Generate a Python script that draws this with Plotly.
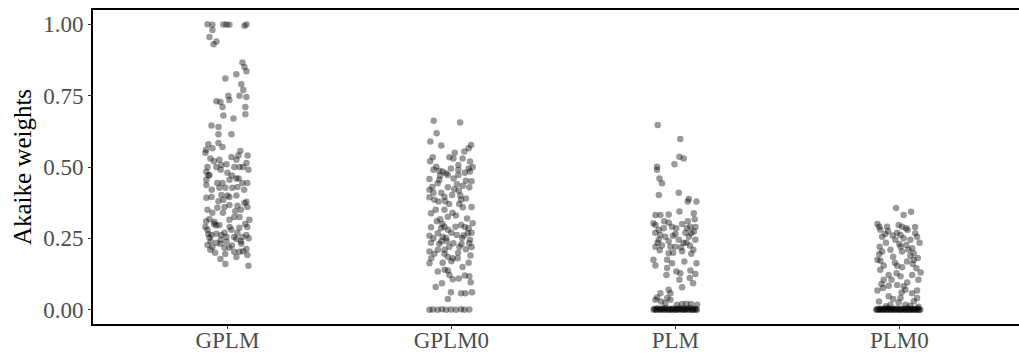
import plotly.graph_objects as go

categories = ["GPLM", "GPLM0", "PLM", "PLM0"]
y_tick_vals = [0.0, 0.25, 0.5, 0.75, 1.0]
y_tick_text = ["0.00", "0.25", "0.50", "0.75", "1.00"]

# ---- GPLM ----
gplm_y = [
    1.000, 0.998, 0.999, 0.999, 0.998, 0.995, 0.999, 0.980, 0.955, 0.940,
    0.930, 0.866, 0.850, 0.835, 0.825, 0.810, 0.790, 0.770, 0.745, 0.750,
    0.750, 0.735, 0.730, 0.728, 0.710, 0.710, 0.680, 0.670, 0.685, 0.645,
    0.640, 0.615, 0.615, 0.580, 0.584, 0.570, 0.550, 0.566, 0.530, 0.525,
    0.535, 0.525, 0.556, 0.540, 0.514, 0.490, 0.500, 0.483, 0.472, 0.500,
    0.507, 0.510, 0.500, 0.500, 0.480, 0.455, 0.437, 0.444, 0.444, 0.455,
    0.460, 0.444, 0.444, 0.427, 0.427, 0.427, 0.430, 0.392, 0.395, 0.402,
    0.385, 0.395, 0.400, 0.378, 0.360, 0.350, 0.340, 0.357, 0.360, 0.367,
    0.364, 0.374, 0.325, 0.325, 0.315, 0.318, 0.308, 0.297, 0.315, 0.290,
    0.280, 0.262, 0.252, 0.266, 0.262, 0.270, 0.255, 0.280, 0.287, 0.255,
    0.290, 0.262, 0.227, 0.220, 0.234, 0.231, 0.238, 0.248, 0.231, 0.210,
    0.217, 0.217, 0.203, 0.203, 0.213, 0.192, 0.178, 0.160, 0.154,
    0.520, 0.500, 0.470, 0.470, 0.420, 0.420, 0.400, 0.380, 0.350, 0.340,
    0.345, 0.310, 0.300, 0.295, 0.290, 0.270, 0.265, 0.250, 0.245, 0.240,
    0.240, 0.225, 0.200, 0.205, 0.195, 0.185, 0.560, 0.540, 0.490, 0.460,
    0.300, 0.255,
]
gplm_jitter = [
    -0.089, -0.067, -0.018, -0.004, 0.009, 0.076, 0.085, -0.067, -0.080, -0.049,
    -0.062, 0.067, 0.076, 0.085, 0.040, -0.009, 0.062, 0.071, 0.085, 0.054,
    0.004, 0.009, -0.049, -0.031, -0.022, 0.080, -0.018, 0.027, 0.080, -0.071,
    -0.040, -0.040, 0.018, -0.085, -0.040, -0.022, -0.098, -0.067, -0.076, -0.036,
    0.018, 0.040, 0.058, 0.049, 0.085, 0.094, -0.089, -0.094, -0.080, -0.049,
    -0.027, -0.004, 0.031, 0.054, 0.000, -0.094, -0.094, -0.045, -0.022, 0.009,
    0.040, 0.067, 0.089, -0.036, -0.009, 0.022, 0.045, -0.094, -0.071, -0.027,
    -0.018, 0.009, 0.040, 0.085, 0.089, -0.089, -0.067, -0.045, -0.013, 0.009,
    0.045, 0.076, 0.054, 0.031, 0.009, -0.080, -0.058, -0.036, 0.098, -0.098,
    -0.089, -0.071, -0.080, -0.049, -0.027, -0.013, -0.004, 0.018, 0.054, 0.067,
    0.089, 0.085, -0.089, -0.067, -0.049, -0.031, -0.004, 0.040, 0.062, -0.076,
    -0.013, 0.009, 0.031, 0.054, 0.085, 0.089, -0.031, -0.009, 0.094,
    -0.060, 0.070, -0.085, 0.020, 0.075, -0.070, 0.000, -0.040, 0.060, -0.020,
    0.035, -0.095, 0.080, -0.050, 0.010, 0.045, -0.085, 0.095, -0.030, 0.060,
    -0.075, 0.020, -0.055, 0.070, -0.010, 0.040, -0.095, 0.090, -0.030, 0.050,
    -0.060, 0.030,
]

# ---- GPLM0 ----
gplm0_y = [
    0.662, 0.656, 0.618, 0.589, 0.577, 0.566, 0.554, 0.534, 0.534, 0.530,
    0.519, 0.507, 0.501, 0.487, 0.484, 0.478, 0.495, 0.490, 0.495, 0.484,
    0.472, 0.458, 0.455, 0.443, 0.472, 0.452, 0.434, 0.429, 0.420, 0.429,
    0.422, 0.417, 0.394, 0.385, 0.396, 0.380, 0.379, 0.402, 0.385, 0.359,
    0.338, 0.350, 0.326, 0.317, 0.303, 0.289, 0.285, 0.291, 0.291, 0.297,
    0.285, 0.259, 0.268, 0.256, 0.251, 0.262, 0.251, 0.268, 0.245, 0.235,
    0.231, 0.221, 0.233, 0.221, 0.212, 0.233, 0.204, 0.196, 0.196, 0.186,
    0.180, 0.180, 0.163, 0.165, 0.165, 0.134, 0.137, 0.122, 0.093, 0.117,
    0.096, 0.107, 0.109, 0.061, 0.038, 0.058, 0.058, 0.061,
    0.000, 0.001, 0.000, 0.002, 0.000, 0.001, 0.000, 0.002, 0.000, 0.001,
    0.470, 0.460, 0.480, 0.410, 0.400, 0.370, 0.360, 0.350, 0.330, 0.320,
    0.300, 0.270, 0.250, 0.260, 0.240, 0.220, 0.210, 0.200, 0.180, 0.150,
    0.140, 0.500, 0.520, 0.550, 0.575,
    0.440, 0.430, 0.390, 0.370, 0.340, 0.310, 0.290, 0.280, 0.270, 0.240,
    0.230, 0.210, 0.190, 0.170, 0.120, 0.080, 0.450, 0.490, 0.530, 0.410,
]
gplm0_jitter = [
    -0.079, 0.039, -0.066, -0.094, 0.088, 0.077, 0.058, -0.083, -0.009, 0.009,
    0.083, 0.031, -0.068, -0.054, -0.039, -0.024, -0.002, 0.031, 0.077, 0.083,
    0.031, -0.098, -0.054, -0.061, -0.016, 0.065, 0.051, 0.080, -0.098, -0.016,
    0.013, 0.033, -0.098, -0.076, -0.031, -0.028, -0.057, 0.003, 0.043, 0.051,
    -0.091, -0.031, -0.016, -0.050, 0.095, -0.091, -0.046, -0.031, 0.018, 0.043,
    0.077, -0.098, -0.061, -0.039, -0.024, 0.024, 0.048, 0.073, 0.083, -0.091,
    -0.054, -0.009, 0.009, 0.036, 0.065, 0.080, -0.098, -0.076, -0.031, -0.016,
    0.006, 0.028, -0.098, -0.039, 0.077, -0.061, -0.016, -0.009, -0.042, 0.080,
    0.086, 0.006, 0.033, -0.002, -0.016, 0.043, 0.063, 0.092,
    -0.098, -0.083, -0.061, -0.042, -0.024, -0.002, 0.020, 0.043, 0.058, 0.080,
    -0.050, 0.010, 0.060, -0.080, 0.040, -0.010, 0.090, -0.070, 0.020, 0.070,
    -0.040, 0.000, -0.080, 0.055, -0.020, 0.090, -0.060, 0.030, -0.090, 0.050,
    -0.030, 0.095, -0.095, 0.015, -0.045,
    0.025, -0.085, 0.065, 0.035, 0.005, -0.065, 0.060, -0.015, 0.090, -0.045,
    0.045, -0.030, 0.085, 0.000, 0.060, -0.070, 0.090, -0.080, 0.050, -0.045,
]

# ---- PLM ----
plm_y = [
    0.647, 0.598, 0.536, 0.530, 0.510, 0.501, 0.490, 0.460, 0.443, 0.402,
    0.410, 0.388, 0.379, 0.379, 0.344, 0.338, 0.317, 0.332, 0.332, 0.334,
    0.303, 0.297, 0.305, 0.280, 0.285, 0.291, 0.285, 0.285, 0.291, 0.274,
    0.268, 0.256, 0.245, 0.262, 0.256, 0.259, 0.245, 0.245, 0.235, 0.221,
    0.208, 0.221, 0.221, 0.219, 0.235, 0.198, 0.196, 0.175, 0.155, 0.175,
    0.163, 0.169, 0.163, 0.146, 0.134, 0.128, 0.137, 0.125, 0.122, 0.105,
    0.111, 0.093, 0.079, 0.035, 0.043, 0.058, 0.070, 0.058, 0.041, 0.029,
    0.035, 0.023, 0.020, 0.021, 0.020, 0.017, 0.017,
    0.310, 0.300, 0.290, 0.270, 0.265, 0.270, 0.240, 0.225, 0.235, 0.210,
    0.200, 0.310, 0.225, 0.205,
]
plm_jitter = [
    -0.079, 0.022, 0.018, 0.037, -0.004, -0.082, -0.082, -0.071, -0.060, -0.074,
    0.015, 0.060, 0.094, 0.055, 0.018, 0.082, 0.086, -0.089, -0.067, -0.030,
    -0.098, -0.089, -0.030, -0.074, -0.052, -0.015, 0.004, 0.052, 0.067, 0.082,
    0.071, 0.060, 0.089, -0.067, -0.045, -0.011, -0.074, 0.015, 0.037, -0.089,
    -0.070, -0.022, 0.000, 0.025, 0.049, -0.030, 0.071, -0.098, -0.089, -0.037,
    -0.015, 0.040, 0.094, -0.037, 0.004, 0.022, 0.067, 0.089, -0.040, 0.018,
    0.064, 0.079, 0.030, -0.089, -0.082, -0.067, -0.030, -0.022, -0.037, -0.064,
    -0.022, -0.045, 0.030, 0.049, 0.070, 0.097, 0.007,
    -0.050, 0.030, 0.090, -0.090, 0.000, 0.045, -0.030, 0.065, -0.080, 0.080,
    -0.010, 0.055, -0.060, 0.030,
]
plm_zero_y = [
    0.000, 0.003, 0.001, 0.000, 0.005, 0.002, 0.000, 0.001, 0.004, 0.000,
    0.002, 0.006, 0.000, 0.001, 0.003, 0.000, 0.002, 0.000, 0.004, 0.001,
    0.000, 0.003, 0.000, 0.002, 0.005, 0.001, 0.000, 0.003, 0.000, 0.002,
    0.004, 0.000, 0.001, 0.006, 0.000, 0.002, 0.000, 0.003, 0.001, 0.000,
]
plm_zero_jitter = [
    -0.097, -0.094, -0.087, -0.084, -0.079, -0.071, -0.069, -0.062, -0.059, -0.051,
    -0.049, -0.044, -0.036, -0.034, -0.027, -0.024, -0.016, -0.012, -0.009, -0.002,
    0.003, 0.008, 0.011, 0.018, 0.021, 0.028, 0.033, 0.036, 0.043, 0.046,
    0.053, 0.056, 0.063, 0.066, 0.073, 0.078, 0.081, 0.088, 0.091, 0.096,
]

# ---- PLM0 ----
plm0_y = [
    0.356, 0.332, 0.343, 0.300, 0.291, 0.280, 0.291, 0.297, 0.291, 0.280,
    0.256, 0.265, 0.270, 0.262, 0.250, 0.268, 0.256, 0.245, 0.245, 0.221,
    0.227, 0.221, 0.215, 0.204, 0.210, 0.204, 0.198, 0.186, 0.189, 0.175,
    0.172, 0.169, 0.175, 0.181, 0.154, 0.149, 0.145, 0.140, 0.122, 0.128,
    0.117, 0.122, 0.105, 0.105, 0.087, 0.084, 0.082, 0.070, 0.067, 0.076,
    0.067, 0.058, 0.047, 0.038, 0.041, 0.041, 0.029, 0.017, 0.025, 0.017,
    0.014,
    0.275, 0.285, 0.290, 0.260, 0.235, 0.235, 0.230, 0.210, 0.195, 0.160,
    0.165, 0.155, 0.130, 0.105, 0.095, 0.090, 0.060, 0.030, 0.012, 0.010,
]
plm0_jitter = [
    -0.015, 0.019, 0.052, -0.098, -0.090, -0.085, -0.055, -0.003, 0.012, 0.037,
    -0.077, -0.063, -0.010, 0.005, 0.019, 0.071, 0.079, 0.049, -0.018, -0.088,
    0.031, 0.005, 0.057, -0.077, -0.040, 0.012, 0.064, -0.028, 0.049, -0.098,
    -0.085, 0.034, 0.064, 0.082, -0.010, 0.012, 0.076, -0.085, -0.048, -0.013,
    0.005, 0.057, -0.070, 0.085, -0.010, -0.048, 0.019, 0.027, -0.098, -0.073,
    0.079, 0.057, -0.048, -0.028, 0.005, 0.079, -0.091, -0.040, -0.003, 0.027,
    0.049,
    -0.050, 0.030, 0.070, -0.030, 0.090, -0.060, 0.000, 0.040, -0.090, 0.060,
    -0.020, -0.070, 0.095, -0.035, 0.035, -0.080, 0.010, 0.065, -0.060, 0.085,
]
plm0_zero_y = [
    0.000, 0.002, 0.001, 0.000, 0.004, 0.000, 0.002, 0.001, 0.000, 0.003,
    0.000, 0.001, 0.005, 0.000, 0.002, 0.000, 0.001, 0.003, 0.000, 0.002,
    0.000, 0.004, 0.001, 0.000, 0.002, 0.000, 0.003, 0.001, 0.000, 0.002,
    0.000, 0.005, 0.001, 0.000, 0.002, 0.000, 0.003, 0.000, 0.001, 0.002,
    0.000, 0.004, 0.000, 0.001, 0.000,
]
plm0_zero_jitter = [
    -0.104, -0.099, -0.095, -0.091, -0.086, -0.081, -0.078, -0.072, -0.068, -0.064,
    -0.059, -0.055, -0.050, -0.046, -0.041, -0.037, -0.032, -0.028, -0.023, -0.019,
    -0.014, -0.010, -0.005, -0.001, 0.004, 0.008, 0.013, 0.017, 0.022, 0.026,
    0.031, 0.035, 0.040, 0.044, 0.049, 0.053, 0.058, 0.062, 0.067, 0.071,
    0.076, 0.080, 0.085, 0.089, 0.093,
]

groups = [
    (gplm_y, gplm_jitter),
    (gplm0_y, gplm0_jitter),
    (plm_y + plm_zero_y, plm_jitter + plm_zero_jitter),
    (plm0_y + plm0_zero_y, plm0_jitter + plm0_zero_jitter),
]

fig = go.Figure()
for i, (ys, js) in enumerate(groups):
    assert len(ys) == len(js), (categories[i], len(ys), len(js))
    fig.add_trace(go.Scatter(
        x=[i + 1 + j for j in js],
        y=ys,
        mode="markers",
        marker=dict(size=6.5, color="black", opacity=0.4, line=dict(width=0)),
        showlegend=False,
        hoverinfo="skip",
        name=categories[i],
    ))

axis_common = dict(
    showline=True, linecolor="black", linewidth=1.8,
    ticks="outside", ticklen=3, tickwidth=1, tickcolor="#333333",
    tickfont=dict(family="Liberation Serif", size=23, color="#4D4D4D"),
    showgrid=False, zeroline=False, automargin=False,
)

fig.update_layout(
    width=1019, height=353,
    margin=dict(l=93, r=0, t=10, b=29),
    paper_bgcolor="white", plot_bgcolor="white",
    font=dict(family="Liberation Serif"),
    xaxis=dict(
        range=[0.4, 4.534], tickmode="array",
        tickvals=[1, 2, 3, 4], ticktext=categories,
        mirror=True, ticklabelstandoff=-9, **axis_common,
    ),
    yaxis=dict(
        range=[-0.05, 1.05], tickmode="array",
        tickvals=y_tick_vals, ticktext=y_tick_text,
        title=dict(text="Akaike weights", standoff=5,
                   font=dict(family="Liberation Serif", size=25, color="black")),
        **axis_common,
    ),
)

fig.write_html("out.html")
